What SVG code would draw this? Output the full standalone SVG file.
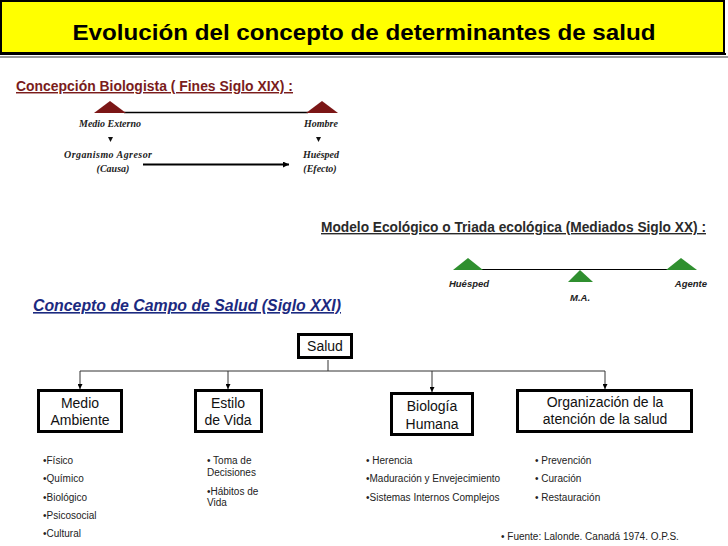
<svg xmlns="http://www.w3.org/2000/svg" width="728" height="546" viewBox="0 0 728 546">
<defs>
<style>
.sans{font-family:"Liberation Sans",Arial,sans-serif;}
.serif{font-family:"Liberation Serif","Times New Roman",serif;font-style:italic;font-weight:bold;font-size:10px;fill:#222;}
.box{fill:#fff;stroke:#000;stroke-width:3;}
.boxt{font-family:"Liberation Sans",Arial,sans-serif;font-size:14px;fill:#111;text-anchor:middle;}
.li{font-family:"Liberation Sans",Arial,sans-serif;font-size:10px;fill:#222;}
.conn{stroke:#333;stroke-width:1;fill:none;}
</style>
<marker id="ah" viewBox="0 0 10 10" refX="10" refY="5" markerWidth="6" markerHeight="6" orient="auto" markerUnits="userSpaceOnUse">
<path d="M0,0 L10,5 L0,10 z" fill="#000"/>
</marker>
<marker id="ah2" viewBox="0 0 10 10" refX="10" refY="5" markerWidth="5" markerHeight="5" orient="auto">
<path d="M0,0 L10,5 L0,10 z" fill="#000"/>
</marker>
</defs>
<rect width="728" height="546" fill="#fff"/>
<g id="header">
<rect x="1" y="1" width="723" height="52" fill="#ffff00" stroke="#000" stroke-width="2"/>
<line x1="0" y1="54" x2="726" y2="54" stroke="#000" stroke-width="2"/>
<line x1="0" y1="57" x2="728" y2="57" stroke="#777" stroke-width="1.5"/>
<text x="364" y="40" class="sans" font-size="22" font-weight="bold" text-anchor="middle" fill="#000" textLength="583" lengthAdjust="spacingAndGlyphs">Evolución del concepto de determinantes de salud</text>
</g>
<g id="biologista">
<text x="16" y="91" class="sans" font-size="14.5" font-weight="bold" fill="#7a1c1c" text-decoration="underline" textLength="277" lengthAdjust="spacingAndGlyphs">Concepción Biologista ( Fines Siglo XIX)  :</text>
<line x1="124" y1="112.5" x2="308" y2="112.5" stroke="#000" stroke-width="1.5"/>
<polygon points="94,113 110,101 126,113" fill="#7b1616"/>
<polygon points="306,113 322,101 338,113" fill="#7b1616"/>
<text x="110" y="127" class="serif" text-anchor="middle">Medio Externo</text>
<text x="321" y="127" class="serif" text-anchor="middle">Hombre</text>
<polygon points="108,137 113,137 110.5,142" fill="#111"/>
<polygon points="316,137 321,137 318.5,142" fill="#111"/>
<text x="108" y="158" class="serif" text-anchor="middle" textLength="88" lengthAdjust="spacing">Organismo Agresor</text>
<text x="113" y="172" class="serif" text-anchor="middle">(Causa)</text>
<text x="321" y="158" class="serif" text-anchor="middle">Huésped</text>
<text x="320" y="172" class="serif" text-anchor="middle">(Efecto)</text>
<line x1="143" y1="164.5" x2="289" y2="164.5" stroke="#000" stroke-width="2" marker-end="url(#ah)"/>
</g>
<g id="ecologico">
<text x="321" y="232" class="sans" font-size="14" font-weight="bold" fill="#2a2a2a" text-decoration="underline" textLength="385" lengthAdjust="spacingAndGlyphs">Modelo Ecológico o Triada ecológica (Mediados Siglo XX)  :</text>
<line x1="468" y1="269.5" x2="682" y2="269.5" stroke="#000" stroke-width="1.2"/>
<polygon points="453,270 468,258 483,270" fill="#2f8f2f"/>
<polygon points="666,270 681,258 697,270" fill="#2f8f2f"/>
<polygon points="568,282 580,270 593,282" fill="#2f8f2f"/>
<text x="469" y="287" class="sans" font-size="9.5" font-weight="bold" font-style="italic" text-anchor="middle" fill="#222">Huésped</text>
<text x="707" y="287" class="sans" font-size="9.5" font-weight="bold" font-style="italic" text-anchor="end" fill="#222">Agente</text>
<text x="580" y="301" class="sans" font-size="9.5" font-weight="bold" font-style="italic" text-anchor="middle" fill="#222">M.A.</text>
</g>
<g id="campo-title">
<text x="33" y="311" class="sans" font-size="16" font-weight="bold" font-style="italic" fill="#1c2a80" text-decoration="underline" textLength="308" lengthAdjust="spacingAndGlyphs">Concepto de Campo de Salud (Siglo XXI)</text>
</g>
<g id="connectors">
<line class="conn" x1="328" y1="360" x2="328" y2="371"/>
<line class="conn" x1="80" y1="371" x2="605" y2="371"/>
<line class="conn" x1="80" y1="371" x2="80" y2="389" marker-end="url(#ah2)"/>
<line class="conn" x1="228" y1="371" x2="228" y2="389" marker-end="url(#ah2)"/>
<line class="conn" x1="432" y1="371" x2="432" y2="392" marker-end="url(#ah2)"/>
<line class="conn" x1="605" y1="371" x2="605" y2="389" marker-end="url(#ah2)"/>
</g>
<g id="salud">
<rect class="box" x="298.5" y="334.5" width="53" height="23"/>
<text class="boxt" x="325" y="351">Salud</text>
</g>
<g id="medio-ambiente">
<rect class="box" x="38.5" y="390.5" width="83" height="41"/>
<text class="boxt" x="80" y="408">Medio</text>
<text class="boxt" x="80" y="425">Ambiente</text>
</g>
<g id="estilo-vida">
<rect class="box" x="195.5" y="390.5" width="66" height="41"/>
<text class="boxt" x="228" y="408">Estilo</text>
<text class="boxt" x="228" y="425">de Vida</text>
</g>
<g id="biologia-humana">
<rect class="box" x="391.5" y="393.5" width="81" height="41"/>
<text class="boxt" x="432" y="411">Biología</text>
<text class="boxt" x="432" y="429">Humana</text>
</g>
<g id="organizacion">
<rect class="box" x="517.5" y="390.5" width="174" height="41"/>
<text class="boxt" x="605" y="407">Organización de la</text>
<text class="boxt" x="605" y="424">atención de la salud</text>
</g>
<g id="lista-medio">
<text class="li" x="43" y="464">•Físico</text>
<text class="li" x="43" y="482">•Químico</text>
<text class="li" x="43" y="501">•Biológico</text>
<text class="li" x="43" y="519">•Psicosocial</text>
<text class="li" x="43" y="537">•Cultural</text>
</g>
<g id="lista-estilo">
<text class="li" x="207" y="464">• Toma de</text>
<text class="li" x="207" y="476">Decisiones</text>
<text class="li" x="207" y="495">•Hábitos de</text>
<text class="li" x="207" y="506">Vida</text>
</g>
<g id="lista-biologia">
<text class="li" x="366" y="464">• Herencia</text>
<text class="li" x="366" y="482">•Maduración y Envejecimiento</text>
<text class="li" x="366" y="501">•Sistemas Internos Complejos</text>
</g>
<g id="lista-organizacion">
<text class="li" x="535" y="464">• Prevención</text>
<text class="li" x="535" y="482">• Curación</text>
<text class="li" x="535" y="501">• Restauración</text>
</g>
<g id="fuente">
<text class="li" x="501" y="540">• Fuente: Lalonde. Canadá 1974. O.P.S.</text>
</g>
</svg>
